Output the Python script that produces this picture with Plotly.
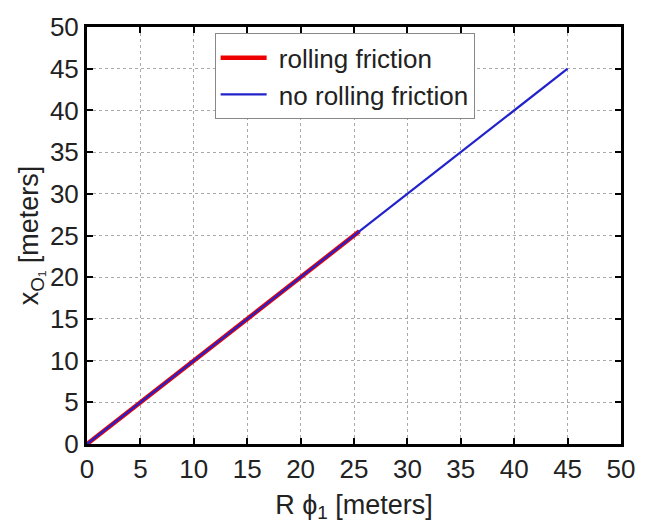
import plotly.graph_objects as go

# data
rf_x = [0, 25.5]
rf_y = [0, 25.5]
nrf_x = [0, 45]
nrf_y = [0, 45]
tick_vals = [0, 5, 10, 15, 20, 25, 30, 35, 40, 45, 50]
legend_names = ["rolling friction", "no rolling friction"]

FONT = "Liberation Sans, Arial"
PAD = "\u00a0"

fig = go.Figure()
fig.add_trace(go.Scatter(x=rf_x, y=rf_y, mode="lines", name=PAD + legend_names[0],
                         line=dict(color="#ee0000", width=4.5)))
fig.add_trace(go.Scatter(x=nrf_x, y=nrf_y, mode="lines", name=PAD + legend_names[1],
                         line=dict(color="#2222cc", width=2.2)))

axis_common = dict(
    range=[0, 50], tickvals=tick_vals, ticks="inside", ticklen=6, tickwidth=2,
    tickcolor="black", showline=True, linewidth=3, linecolor="black", mirror="ticks",
    showgrid=True, gridcolor="#aaaaaa", griddash="dot", gridwidth=1, zeroline=False,
    tickfont=dict(family=FONT, size=26, color="#222222"),
)
fig.update_xaxes(**axis_common, ticklabelstandoff=0,
                 title=dict(text="R ϕ<sub>1</sub> [meters]", standoff=12,
                            font=dict(family=FONT, size=27, color="#222222")))
fig.update_yaxes(**axis_common, ticklabelstandoff=0,
                 title=dict(text="x<sub>O₁</sub> [meters]", standoff=4,
                            font=dict(family=FONT, size=27, color="#222222")))

fig.update_layout(
    width=647, height=527,
    margin=dict(l=87, r=17, t=20, b=83),
    paper_bgcolor="white", plot_bgcolor="white",
    showlegend=True,
    legend=dict(x=0.239, y=0.985, xanchor="left", yanchor="top",
                bgcolor="white", bordercolor="#888888", borderwidth=1,
                font=dict(family=FONT, size=26, color="#222222"),
                itemwidth=46, tracegroupgap=0),
)

fig.write_html("out.html")
